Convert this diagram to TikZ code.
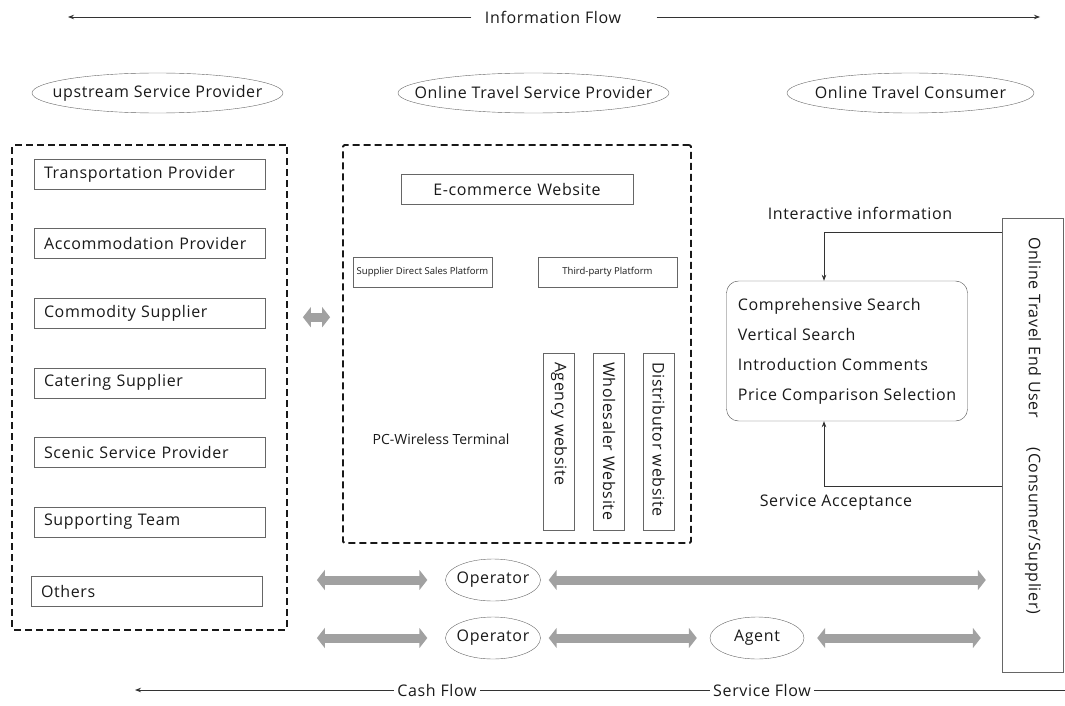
\documentclass[tikz,border=0pt]{standalone}
\usepackage{fontspec}
\setmainfont{Open Sans}[LetterSpace=4]
\newfontfamily\tightfont{Open Sans}
\usetikzlibrary{shapes.geometric,arrows.meta,positioning}
\newcommand{\ovtext}[1]{\makebox[0pt]{#1}}
\tikzset{
    item/.style={draw=black!60, minimum width=231pt, minimum height=30pt, text width=211pt, align=left, inner xsep=10pt},
    plat/.style={draw=black!60, minimum height=30pt, inner sep=0pt, font=\tightfont\fontsize{9.5}{11}\selectfont},
    group/.style={draw=black!90, line width=1.8pt, dash pattern=on 7pt off 4pt, rounded corners=1.5pt},
    oval/.style={ellipse, draw=black!60, inner sep=0pt, minimum height=40pt},
    vbox/.style={draw=black!60, rotate=-90, anchor=west, minimum width=177pt, minimum height=31pt, text width=159pt, inner xsep=9pt, align=left},
    flow/.style={line width=9pt, draw=black!37, {Triangle[length=8pt,width=20pt]}-{Triangle[length=8pt,width=20pt]}},
    thinarrow/.style={draw=black!80, line width=0.8pt, -{Stealth[length=6pt,width=4.5pt]}},
    thinline/.style={draw=black!80, line width=0.8pt}
}
\begin{document}
\begin{tikzpicture}[x=1pt, y=-1pt, font=\fontsize{16}{19}\selectfont, text=black!90]
    \useasboundingbox (0,0) rectangle (1065,706);

    % 信息流
    \node (info) at (553,17) {Information Flow};
    \coordinate (infoL) at (68,17);
    \coordinate (infoR) at (1040,17);
    \draw[thinarrow, shorten <=10pt] (info.west) -- (infoL);
    \draw[thinarrow, shorten <=32pt] (info.east) -- (infoR);

    % 三个角色
    \node[oval, minimum width=251pt] (upper) at (157.5,93) {\ovtext{upstream Service Provider}};
    \node[oval, minimum width=271pt] (otsp) at (533.5,93) {\ovtext{Online Travel Service Provider}};
    \node[oval, minimum width=247pt] (otc) at (910.5,93) {\ovtext{Online Travel Consumer}};

    % 上游供应商
    \node[group, minimum width=275pt, minimum height=485pt] (lgroup) at (149.5,387.5) {};
    \foreach \txt [count=\i from 0] in {Transportation Provider, Accommodation Provider, Commodity Supplier, Catering Supplier, Scenic Service Provider, Supporting Team}
        \node[item] (l\i) at (149.5, 174+69.6*\i) {\txt};
    \node[item] (l6) at (146.5,591.5) {Others};

    % 在线旅游服务商
    \node[group, minimum width=348pt, minimum height=398pt] (mgroup) at (517,344) {};
    \node[item, minimum width=232pt, text width=212pt, align=center] (ecom) at (517,189.5) {E-commerce Website};
    \node[plat, minimum width=139pt] (direct) at (422.5,272) {Supplier Direct Sales Platform};
    \node[plat, minimum width=139pt] (third) at (607.5,272) {Third-party Platform};
    \node[font=\tightfont\fontsize{14}{16}\selectfont] (pc) at (441,439) {PC-Wireless Terminal};
    \node[vbox] (agency) at (559,353) {Agency website};
    \node[vbox] (whole) at (609,353) {Wholesaler Website};
    \node[vbox] (dist) at (658.5,353) {Distributor website};

    \draw[flow, shorten <=15pt, shorten >=12pt] ([yshift=-4pt]lgroup.east |- l2) -- ([yshift=-4pt]mgroup.west |- l2);

    % 终端用户
    \node[draw=black!60, minimum width=61pt, minimum height=454pt] (user) at (1032.5,445) {};
    \node[rotate=-90, anchor=west, inner sep=0pt] (usertext) at (1033,237) {Online Travel End User\hspace{30pt}(Consumer/Supplier)};

    \node[draw=black!70, rounded corners=12pt, minimum width=241pt, minimum height=140pt, align=left, font=\fontsize{16}{30}\selectfont] (search) at (847,351)
        {Comprehensive Search\\Vertical Search\\Introduction Comments\\Price Comparison Selection};
    \node (inter) at (860,213) {Interactive information};
    \node (accept) at (836,503) {Service Acceptance};
    \draw[thinarrow] ([yshift=213pt]user.west) -| ([xshift=-23pt]search.north);
    \draw[thinarrow] ([yshift=-41pt]user.west) -| ([xshift=-23pt]search.south);

    % 运营商 / 代理
    \node[oval, minimum width=95pt, minimum height=42pt] (op1) at (493,580) {\ovtext{Operator}};
    \node[oval, minimum width=95pt, minimum height=42pt] (op2) at (493,638) {\ovtext{Operator}};
    \node[oval, minimum width=94pt, minimum height=42pt] (agent) at (757,638) {\ovtext{Agent}};

    \draw[flow, shorten <=29pt, shorten >=18pt] (lgroup.east |- op1) -- (op1.west);
    \draw[flow, shorten <=8pt, shorten >=16pt] (op1.east) -- (user.west |- op1);
    \draw[flow, shorten <=29pt, shorten >=18pt] (lgroup.east |- op2) -- (op2.west);
    \draw[flow, shorten <=8pt, shorten >=13pt] (op2.east) -- (agent.west);
    \draw[flow, shorten <=13pt, shorten >=21pt] (agent.east) -- (user.west |- agent);

    % 资金流 / 服务流
    \node (cash) at (437,690) {Cash Flow};
    \node (serv) at (762,690) {Service Flow};
    \coordinate (cashL) at (135,690);
    \coordinate (servR) at (1065,690);
    \draw[thinarrow] (cash) -- (cashL);
    \draw[thinline] (cash) -- (serv);
    \draw[thinline] (serv) -- (servR);
\end{tikzpicture}
\end{document}
